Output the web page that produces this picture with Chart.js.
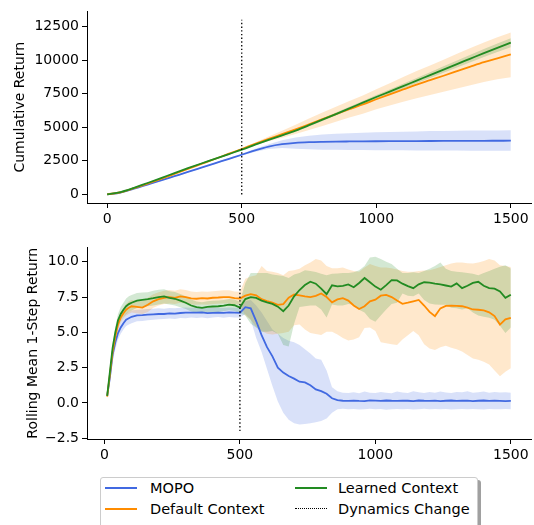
<!DOCTYPE html>
<html>
<head>
<meta charset="utf-8">
<script src="https://cdn.jsdelivr.net/npm/chart.js@4.4.1/dist/chart.umd.min.js"></script>
<style>
  html, body { margin: 0; padding: 0; background: #fff; }
  body { width: 534px; height: 525px; position: relative; overflow: hidden; font-family: 'DejaVu Sans', sans-serif; }
  .panel { position: absolute; left: 0; width: 534px; height: 230px; }
  #legend { position: absolute; left: 100px; top: 477px; width: 376px; height: 52px; border: 1px solid #cccccc; border-radius: 3px; background: #fff; box-shadow: 3px 3px 0 #a0a0a0; }
  .txt { position: absolute; font-size: 14.5px; line-height: 16px; color: #000; white-space: nowrap; }
  .sw { position: absolute; width: 32px; height: 2px; }
  .sw.dot { height: 0; border-top: 1.5px dotted #000; }
</style>
</head>
<body>
<div class="panel" style="top:0"><canvas id="cumChart"></canvas></div>
<div class="panel" style="top:236px"><canvas id="rollChart"></canvas></div>
<div id="legend">
  <div class="sw" style="left:4px; top:9px; background:#4169e1"></div>
  <div class="txt" style="left:49px; top:2px">MOPO</div>
  <div class="sw" style="left:4px; top:30px; background:#ff8c00"></div>
  <div class="txt" style="left:49px; top:23px">Default Context</div>
  <div class="sw" style="left:194px; top:9px; background:#228b22"></div>
  <div class="txt" style="left:237px; top:2px">Learned Context</div>
  <div class="sw dot" style="left:194px; top:30px"></div>
  <div class="txt" style="left:237px; top:23px">Dynamics Change</div>
</div>
<script>
// --- cumulative return (top panel), every 50 steps ---
const cumSteps = [0,50,100,150,200,250,300,350,400,450,500,550,600,650,700,750,800,850,900,950,1000,1050,1100,1150,1200,1250,1300,1350,1400,1450,1500];
const mopoCum   = [0,140,420,730,1040,1355,1670,1990,2310,2630,2950,3280,3560,3740,3840,3890,3915,3930,3940,3948,3955,3960,3965,3970,3975,3978,3982,3986,3990,3993,3995];
const mopoCumLo = [0,135,405,705,1005,1315,1625,1940,2255,2570,2880,3170,3380,3450,3400,3360,3330,3315,3305,3298,3290,3285,3280,3275,3270,3265,3260,3258,3255,3250,3245];
const mopoCumHi = [0,145,435,755,1075,1395,1715,2040,2365,2690,3020,3390,3740,4030,4240,4370,4450,4510,4555,4590,4620,4645,4670,4690,4710,4725,4740,4750,4760,4765,4770];
const defaultCum   = [0,160,460,800,1150,1520,1895,2265,2635,3010,3380,3760,4130,4480,4840,5220,5600,5970,6340,6690,7080,7450,7810,8170,8500,8830,9170,9510,9840,10130,10420];
const defaultCumLo = [0,155,450,785,1130,1495,1865,2230,2595,2960,3320,3650,3950,4220,4490,4790,5100,5410,5720,6010,6330,6620,6890,7160,7400,7640,7880,8120,8370,8570,8720];
const defaultCumHi = [0,165,470,815,1170,1545,1925,2300,2675,3060,3440,3870,4310,4740,5190,5650,6100,6530,6960,7370,7830,8280,8730,9180,9600,10020,10460,10890,11310,11690,12050];
const learnedCum   = [0,175,490,850,1215,1590,1950,2300,2640,2985,3330,3700,4060,4400,4750,5150,5570,5980,6400,6830,7250,7650,8060,8470,8880,9290,9700,10110,10520,10910,11290];
const learnedCumLo = [0,170,480,835,1195,1565,1920,2265,2600,2940,3290,3650,4000,4330,4670,5060,5470,5870,6280,6700,7100,7485,7880,8270,8660,9050,9440,9830,10220,10590,10960];
const learnedCumHi = [0,180,500,865,1235,1615,1980,2335,2680,3030,3370,3750,4120,4470,4830,5240,5670,6090,6520,6960,7400,7815,8240,8670,9100,9530,9960,10390,10820,11230,11620];

// --- rolling mean 1-step return (bottom panel) ---
const rollSteps = [10,20,30,40,50,60,70,80,90,100,120,140,160,180,200,220,240,260,280,300,320,340,360,380,400,420,440,460,480,500,520,540,560,580,600,620,640,660,680,700,720,740,760,780,800,820,840,860,880,900,920,940,960,980,1000,1020,1040,1060,1080,1100,1120,1140,1160,1180,1200,1220,1240,1260,1280,1300,1320,1340,1360,1380,1400,1420,1440,1460,1480,1500];
const mopoRoll = [0.5,1.8,3.4,4.3,4.95,5.35,5.65,5.9,6.0,6.1, 6.2,6.22,6.25,6.28,6.3, 6.3,6.35,6.33,6.37,6.4, 6.39,6.4,6.42,6.36,6.38, 6.4,6.38,6.42,6.4,6.38,
  6.78,6.7,5.8,4.8,3.95, 3.3,2.5,2.15,1.9,1.72, 1.5,1.45,1.25,0.95,0.83, 0.65,0.33,0.19,0.15,0.14, 0.16,0.14,0.13,0.18,0.16,
  0.14,0.17,0.15,0.14,0.16, 0.15,0.13,0.17,0.15,0.14, 0.16,0.13,0.15,0.17,0.14, 0.15,0.16,0.13,0.15,0.17, 0.14,0.15,0.14,0.13,0.14];
const mopoRollLo = [0.3,1.4,2.9,3.8,4.5,4.9,5.2,5.45,5.55,5.65, 5.78,5.8,5.85,5.9,5.92, 5.95,5.98,5.95,6.02,6.0, 6.05,6.02,6.05,6.0,6.05, 6.08,6.03,6.08,6.05,6.05,
  6.3,5.9,4.6,3.6,2.4, 1.2,0.1,-0.7,-1.2,-1.45, -1.53,-1.5,-1.45,-1.38,-1.28, -1.1,-0.7,-0.45,-0.42,-0.45, -0.43,-0.47,-0.45,-0.42,-0.46,
  -0.44,-0.48,-0.45,-0.43,-0.46, -0.44,-0.47,-0.45,-0.42,-0.46, -0.44,-0.46,-0.43,-0.47,-0.45, -0.44,-0.46,-0.43,-0.45,-0.47, -0.44,-0.46,-0.45,-0.43,-0.45];
const mopoRollHi = [0.7,2.2,3.9,4.8,5.4,5.8,6.1,6.35,6.45,6.55, 6.6,6.62,6.65,6.68,6.7, 6.68,6.72,6.7,6.74,6.76, 6.74,6.78,6.76,6.72,6.74, 6.75,6.72,6.76,6.75,6.72,
  7.2,7.3,6.9,6.4,5.8, 5.2,4.9,4.6,4.4,4.3, 4.1,3.8,3.5,3.15,3.05, 2.3,1.1,0.82,0.72,0.7, 0.75,0.68,0.8,0.72,0.7,
  0.78,0.72,0.68,0.8,0.74, 0.7,0.82,0.75,0.7,0.78, 0.72,0.8,0.74,0.7,0.78, 0.75,0.82,0.72,0.76,0.8, 0.72,0.78,0.74,0.76,0.72];
const defaultRoll = [0.45,2.0,3.6,4.7,5.55,6.05,6.35,6.6,6.75,6.85, 6.8,6.75,6.95,7.2,7.35, 7.45,7.5,7.45,7.55,7.5, 7.4,7.38,7.42,7.4,7.45, 7.47,7.5,7.5,7.42,7.4,
  7.6,7.7,7.62,7.35,7.22, 7.1,6.95,7.0,7.45,7.68, 7.62,7.55,7.5,7.58,7.75, 7.5,7.13,7.33,7.42,7.25, 6.9,6.65,6.85,7.2,7.32,
  7.6,7.65,7.5,7.25,7.02, 7.1,7.2,7.3,6.9,6.45, 6.15,6.7,6.88,6.9,6.88, 6.85,6.75,6.62,6.6,6.55, 6.42,6.15,5.55,5.92,6.02];
const defaultRollLo = [0.35,1.75,3.3,4.35,5.2,5.7,6.0,6.2,6.3,6.4, 6.35,6.3,6.45,6.75,6.9, 7.0,7.05,7.0,7.1,7.05, 6.98,6.95,6.98,6.95,7.0, 7.02,7.05,7.05,6.98,6.95,
  6.2,5.9,5.4,5.1,4.9, 4.85,4.9,4.95,5.05,5.5, 5.55,5.2,4.95,4.88,4.82, 5.05,5.05,4.85,4.6,4.42, 4.5,4.65,5.3,5.35,5.1,
  4.3,4.22,4.15,4.1,4.5, 4.8,5.1,4.8,4.15,3.85, 3.75,3.95,4.05,3.9,3.8, 3.65,3.4,3.15,3.05,2.92, 2.72,2.3,1.88,2.2,2.45];
const defaultRollHi = [0.55,2.25,3.9,5.05,5.9,6.4,6.7,7.0,7.2,7.3, 7.25,7.2,7.45,7.7,7.85, 7.95,8.0,7.95,8.05,8.0, 7.9,7.86,7.9,7.88,7.92, 7.95,7.98,7.98,7.9,7.88,
  8.8,8.95,9.05,9.7,9.35, 9.3,9.2,9.05,9.35,9.4, 9.5,9.75,9.95,10.2,10.1, 9.7,9.55,9.55,9.6,9.45, 9.35,9.3,9.6,9.85,9.7,
  9.6,9.6,9.55,9.45,9.35, 9.3,9.3,9.35,9.38,9.4, 9.5,9.63,9.75,9.88,9.95, 9.95,9.9,9.88,9.95,10.05, 10.2,10.1,9.75,9.7,9.63];
const learnedRoll = [0.5,2.2,3.9,5.0,5.85,6.3,6.6,6.85,7.0,7.1, 7.25,7.3,7.35,7.42,7.5, 7.55,7.45,7.38,7.25,7.1, 6.9,6.78,6.74,6.8,6.83, 6.85,6.9,6.96,6.92,6.76,
  7.36,7.5,7.44,7.25,7.12, 7.02,6.82,6.5,6.9,7.55, 8.0,8.35,8.59,8.45,8.1, 7.7,8.33,8.26,8.3,8.4, 8.2,8.5,8.85,8.55,8.24,
  8.02,8.35,8.7,8.68,8.45, 8.28,8.13,8.4,8.55,8.52, 8.45,8.4,8.32,8.24,8.47, 8.13,8.3,8.5,8.58,8.3, 8.13,8.1,7.9,7.45,7.67];
const learnedRollLo = [0.4,1.95,3.6,4.6,5.4,5.8,6.1,6.3,6.45,6.55, 6.72,6.78,6.85,6.9,6.98, 7.05,6.98,6.9,6.78,6.65, 6.48,6.38,6.34,6.4,6.43, 6.45,6.5,6.56,6.52,6.35,
  6.2,5.6,5.35,5.05,5.05, 5.1,4.9,4.1,4.0,5.6, 6.8,6.85,6.9,6.9,6.62, 6.05,6.97,6.9,6.9,7.0, 6.95,6.6,6.4,5.95,5.75,
  6.2,6.62,7.0,7.1,7.75, 7.6,7.55,7.75,7.3,7.05, 6.97,6.95,6.95,6.75,6.7, 6.62,6.7,6.4,6.2,6.1, 6.04,5.9,5.46,4.96,5.35];
const learnedRollHi = [0.6,2.45,4.2,5.4,6.3,6.8,7.1,7.4,7.55,7.65, 7.78,7.82,7.85,7.94,8.02, 8.05,7.92,7.86,7.72,7.55, 7.32,7.18,7.14,7.2,7.23, 7.25,7.3,7.36,7.32,7.17,
  8.5,9.2,9.2,9.2,9.2, 9.1,9.05,9.0,8.85,9.1, 9.2,9.4,9.35,9.28,9.15, 9.05,9.15,9.17,9.2,9.2, 9.25,9.4,9.7,10.3,10.35,
  10.2,10.0,9.85,9.5,9.2, 9.2,9.25,9.2,9.35,9.5, 9.7,9.95,9.5,9.35,9.3, 9.25,9.2,9.15,9.05,9.2, 9.35,9.5,9.65,9.75,9.52];

// dynamics change marker and axis ticks
const changeStep = 500;
const changeTop = [0, 13000];
const changeBottom = [-2, 9.9];
const xTicks = [0, 500, 1000, 1500];
const cumTicks = [0, 2500, 5000, 7500, 10000, 12500];
const rollTicks = [-2.5, 0, 2.5, 5, 7.5, 10];

const FONT = { family: 'DejaVu Sans', size: 14 };
const NONE = 'rgba(0,0,0,0)';

function pts(xs, ys) {
    return xs.map((x, i) => ({ x: x, y: ys[i] }));
}

// bands first (under), mean lines on top, dotted marker topmost
function buildSets(xs, groups, change, smooth) {
    const sets = [];
    groups.forEach((g, k) => {
        sets.push({ data: pts(xs, g.lo), borderColor: NONE, pointRadius: 0, fill: false, order: 30 - k * 2 });
        sets.push({ data: pts(xs, g.hi), borderColor: NONE, pointRadius: 0, fill: '-1', backgroundColor: g.band, order: 30 - k * 2 });
        sets.push({ label: g.name, data: pts(xs, g.mean), borderColor: g.color, borderWidth: 1.8, pointRadius: 0, fill: false,
                    cubicInterpolationMode: smooth ? 'monotone' : 'default', order: 10 - k });
    });
    sets.push({ label: 'Dynamics Change', data: [{ x: changeStep, y: change[0] }, { x: changeStep, y: change[1] }],
                borderColor: '#000', borderWidth: 1.3, borderDash: [1.4, 2.3], pointRadius: 0, fill: false, order: 0 });
    return sets;
}

function makeScales(xMin, xMax, yMin, yMax, yTicks, fmt, title, titlePad) {
    const grid = { display: true, drawOnChartArea: false, drawTicks: true, tickLength: 5, color: '#000', lineWidth: 1 };
    const border = { display: true, color: '#000', width: 1 };
    return {
        x: {
            type: 'linear', min: xMin, max: xMax, grid: grid, border: border,
            afterBuildTicks: s => { s.ticks = xTicks.map(v => ({ value: v })); },
            afterFit: s => { s.height = 27; },
            ticks: { color: '#000', font: FONT, padding: 3, maxRotation: 0, autoSkip: false, callback: v => String(v) }
        },
        y: {
            type: 'linear', min: yMin, max: yMax, grid: grid, border: border,
            afterBuildTicks: s => { s.ticks = yTicks.map(v => ({ value: v })); },
            afterFit: s => { s.width = 87; },
            ticks: { color: '#000', font: FONT, padding: 3, autoSkip: false, callback: fmt },
            title: { display: true, text: title, color: '#000', font: FONT, padding: { top: titlePad, bottom: 0 } }
        }
    };
}

function makeChart(id, sets, scales) {
    return new Chart(document.getElementById(id), {
        type: 'line',
        data: { datasets: sets },
        options: {
            responsive: true,
            maintainAspectRatio: false,
            animation: false,
            layout: { padding: { top: 7, right: 3, left: 0, bottom: 0 } },
            scales: scales,
            plugins: { legend: { display: false }, tooltip: { enabled: false } }
        }
    });
}

const topGroups = [
    { name: 'MOPO', mean: mopoCum, lo: mopoCumLo, hi: mopoCumHi, color: '#4169e1', band: 'rgba(65,105,225,0.2)' },
    { name: 'Default Context', mean: defaultCum, lo: defaultCumLo, hi: defaultCumHi, color: '#ff8c00', band: 'rgba(255,140,0,0.2)' },
    { name: 'Learned Context', mean: learnedCum, lo: learnedCumLo, hi: learnedCumHi, color: '#228b22', band: 'rgba(34,139,34,0.2)' }
];
const bottomGroups = [
    { name: 'MOPO', mean: mopoRoll, lo: mopoRollLo, hi: mopoRollHi, color: '#4169e1', band: 'rgba(65,105,225,0.2)' },
    { name: 'Default Context', mean: defaultRoll, lo: defaultRollLo, hi: defaultRollHi, color: '#ff8c00', band: 'rgba(255,140,0,0.2)' },
    { name: 'Learned Context', mean: learnedRoll, lo: learnedRollLo, hi: learnedRollHi, color: '#228b22', band: 'rgba(34,139,34,0.2)' }
];

makeChart('cumChart', buildSets(cumSteps, topGroups, changeTop, true),
    makeScales(-75, 1575, -640, 13620, cumTicks, v => String(v), 'Cumulative Return', 11.6));

makeChart('rollChart', buildSets(rollSteps, bottomGroups, changeBottom, false),
    makeScales(-64.5, 1574.5, -2.56, 11.02, rollTicks,
        v => (v < 0 ? '\u2212' + Math.abs(v).toFixed(1) : v.toFixed(1)), 'Rolling Mean 1-Step Return', 24.6));
</script>
</body>
</html>
